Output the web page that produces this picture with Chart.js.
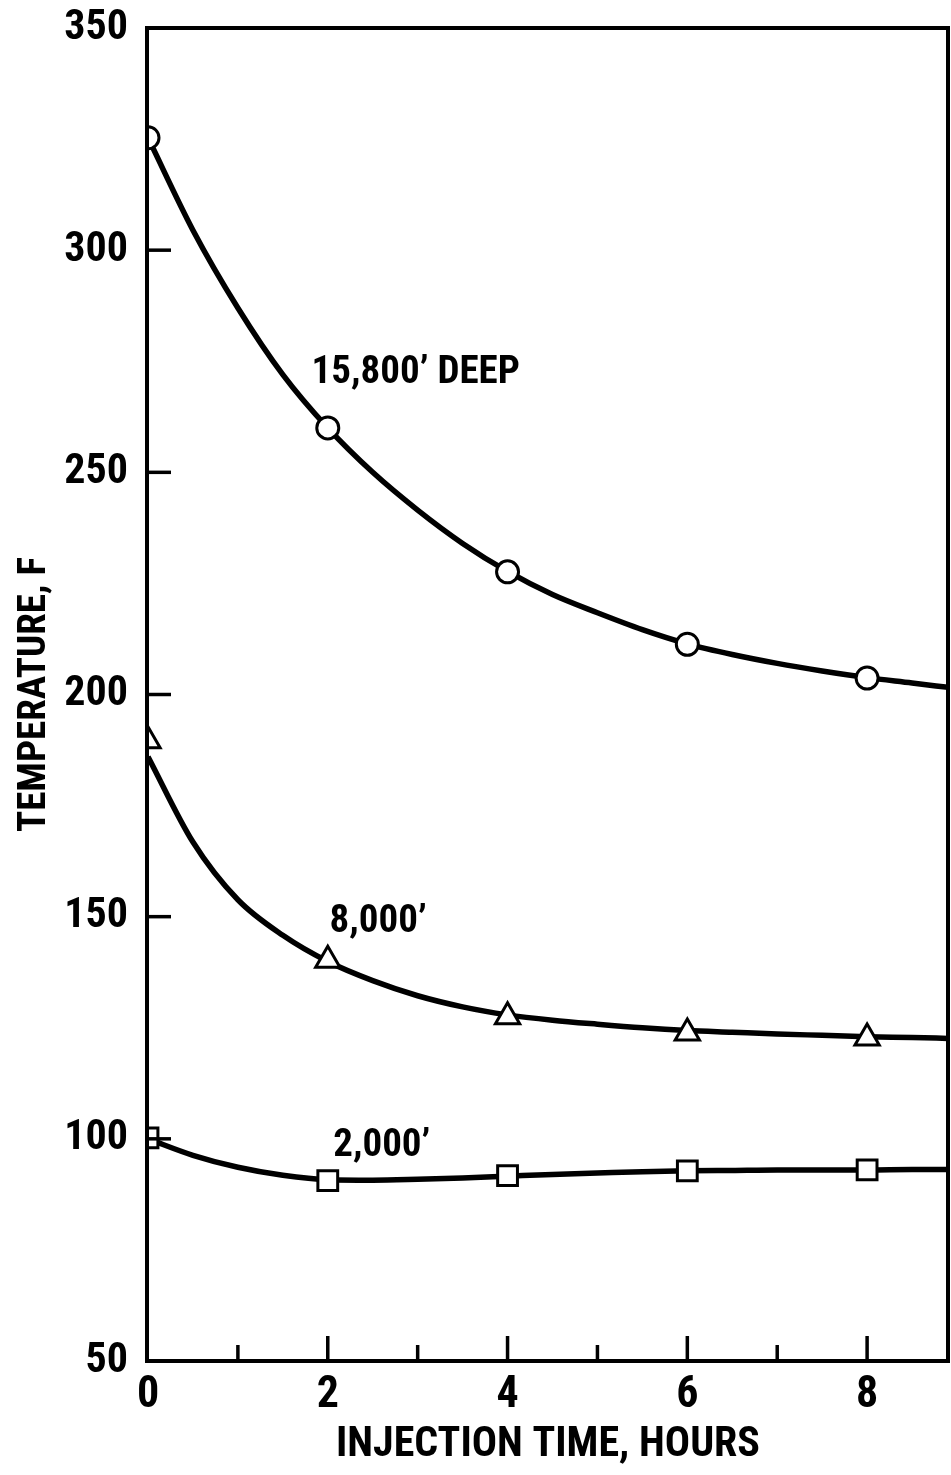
<!DOCTYPE html>
<html>
<head>
<meta charset="utf-8">
<script src="https://cdn.jsdelivr.net/npm/chart.js@4.4.1/dist/chart.umd.min.js"></script>
<style>
  html, body { margin: 0; padding: 0; background: #fff; }
  canvas { display: block; }
</style>
</head>
<body>
<canvas id="chart" width="951" height="1475"></canvas>
<script>
// ---- measured points (markers) ----
const hours = [0, 2, 4, 6, 8];
const deep15800 = [325.3, 260, 227.6, 211.3, 203.7];
const deep8000 = [189.6, 140.2, 127.5, 123.8, 122.7];
const deep2000 = [100.2, 90.6, 91.7, 92.8, 93.0];

// ---- the drawn curves, every half hour, up to the right edge ----
const curveHours = [0, 0.5, 1, 1.5, 2, 2.5, 3, 3.5, 4, 4.5, 5, 5.5, 6, 6.5, 7, 7.5, 8, 8.5, 8.9];
const curve15800 = [325.3, 304.5, 287, 272, 260, 250, 241.5, 234, 227.7, 222.5, 218.4, 214.6, 211.4, 209, 207, 205.3, 203.8, 202.6, 201.6];
const curve8000 = [186, 166.8, 153.8, 145.8, 139.9, 135.6, 132.2, 129.7, 127.9, 126.7, 125.8, 125.0, 124.4, 124.0, 123.6, 123.3, 123.0, 122.8, 122.6];
const curve2000 = [100, 96.3, 93.6, 91.8, 90.8, 90.7, 90.9, 91.2, 91.6, 92.0, 92.3, 92.6, 92.8, 92.9, 93.0, 93.0, 93.0, 93.1, 93.1];

const xMax = 8.9;
const yTickValues = [50, 100, 150, 200, 250, 300, 350];
const xTickLabels = ["0", "2", "4", "6", "8"];

const curveNames = ["15,800\u2019 DEEP", "8,000\u2019", "2,000\u2019"];
const nameHours = [1.82, 2.02, 2.06];
const nameTemps = [270.2, 146.6, 96.1];

const FONT = "'Roboto Condensed', 'DejaVu Sans Condensed', sans-serif";

const pts = (xs, ys) => xs.map((h, i) => ({ x: h, y: ys[i] }));

function markerSet(vals, style, r) {
  return {
    data: pts(hours, vals),
    showLine: false,
    pointStyle: style,
    pointRadius: r,
    pointHoverRadius: r,
    pointBackgroundColor: "#fff",
    pointBorderColor: "#000",
    pointBorderWidth: 3
  };
}

function curveSet(ys) {
  return {
    data: pts(curveHours, ys),
    borderColor: "#000",
    borderWidth: 5.5,
    cubicInterpolationMode: "monotone",
    fill: false,
    pointRadius: 0,
    pointHoverRadius: 0
  };
}

// frame, inward tick marks and curve names
const framePlugin = {
  id: "frame",
  afterDatasetsDraw(chart) {
    const { ctx, chartArea: a, scales: { x, y } } = chart;
    ctx.save();
    ctx.strokeStyle = "#000";
    ctx.lineCap = "butt";

    ctx.lineWidth = 3.5;
    x.ticks.forEach(t => {
      if (t.value <= 0) return;
      const px = x.getPixelForValue(t.value);
      const len = t.value % 2 === 0 ? 25 : 16;
      ctx.beginPath();
      ctx.moveTo(px, a.bottom);
      ctx.lineTo(px, a.bottom - len);
      ctx.stroke();
    });
    y.ticks.forEach(t => {
      if (t.value <= 50 || t.value >= 350) return;
      const py = y.getPixelForValue(t.value);
      ctx.beginPath();
      ctx.moveTo(a.left, py);
      ctx.lineTo(a.left + 23, py);
      ctx.stroke();
    });

    ctx.lineWidth = 4;
    ctx.strokeRect(a.left - 1, a.top, a.right - a.left + 1, a.bottom - a.top);

    ctx.fillStyle = "#000";
    ctx.font = "bold 39px " + FONT;
    ctx.textAlign = "left";
    ctx.textBaseline = "alphabetic";
    curveNames.forEach((n, i) => {
      ctx.fillText(n, x.getPixelForValue(nameHours[i]), y.getPixelForValue(nameTemps[i]));
    });
    ctx.restore();
  }
};

new Chart(document.getElementById("chart"), {
  type: "line",
  data: {
    datasets: [
      markerSet(deep15800, "circle", 11),
      markerSet(deep8000, "triangle", 14),
      markerSet(deep2000, "rect", 14),
      curveSet(curve15800),
      curveSet(curve8000),
      curveSet(curve2000)
    ]
  },
  options: {
    responsive: false,
    animation: false,
    events: [],
    layout: { autoPadding: false, padding: { top: 28, right: 3, left: 0, bottom: 0 } },
    plugins: { legend: { display: false }, tooltip: { enabled: false } },
    scales: {
      x: {
        type: "linear",
        min: 0,
        max: xMax,
        grid: { display: false, drawTicks: false },
        border: { display: false },
        ticks: {
          stepSize: 1,
          includeBounds: false,
          autoSkip: false,
          maxRotation: 0,
          padding: 9,
          color: "#000",
          font: { family: FONT, size: 44, weight: "bold" },
          callback: v => (v % 2 === 0 ? xTickLabels[v / 2] : "")
        },
        title: {
          display: true,
          text: "INJECTION TIME, HOURS",
          color: "#000",
          font: { family: FONT, size: 42, weight: "bold" },
          padding: { top: 0, bottom: 4 }
        },
        afterFit: s => { s.height = 114; }
      },
      y: {
        type: "linear",
        min: yTickValues[0],
        max: yTickValues[yTickValues.length - 1],
        // invisible outer tick marks just hold the labels off the frame
        grid: { display: true, drawOnChartArea: false, drawTicks: true, tickLength: 18, color: "rgba(0,0,0,0)" },
        border: { display: false },
        ticks: {
          stepSize: 50,
          padding: 2,
          color: "#000",
          font: { family: FONT, size: 42, weight: "bold" },
          callback: v => (yTickValues.includes(v) ? String(v) : "")
        },
        title: {
          display: true,
          text: "TEMPERATURE, F",
          color: "#000",
          font: { family: FONT, size: 39, weight: "bold" },
          padding: { top: 12, bottom: 0 }
        },
        afterFit: s => { s.width = 148; }
      }
    }
  },
  plugins: [framePlugin]
});
</script>
</body>
</html>
